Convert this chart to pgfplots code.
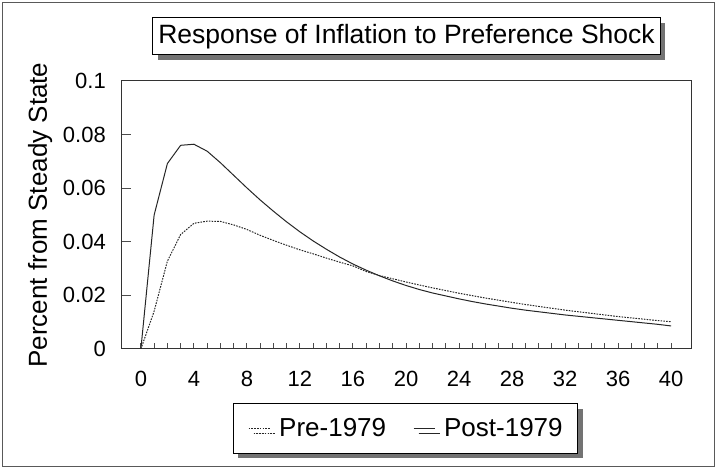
\documentclass[border=0pt]{standalone}
\usepackage{fontspec}
\setmainfont{Liberation Sans}
\usepackage{pgfplots}
\pgfplotsset{compat=1.18}
\usetikzlibrary{shadows}

\pgfplotstableread{
t pre post
0 0 0
1 0.0141 0.0500
2 0.0328 0.0692
3 0.0427 0.0760
4 0.0469 0.0764
5 0.0477 0.0738
6 0.0476 0.0695
7 0.0463 0.0648
8 0.0446 0.0601
9 0.0424 0.0556
10 0.0405 0.0514
11 0.0387 0.0474
12 0.0370 0.0437
13 0.0355 0.0403
14 0.0339 0.0372
15 0.0324 0.0343
16 0.0310 0.0317
17 0.0289 0.0294
18 0.0274 0.0273
19 0.0262 0.0254
20 0.0250 0.0237
21 0.0239 0.0222
22 0.0228 0.0209
23 0.0218 0.0198
24 0.0208 0.0187
25 0.0199 0.0177
26 0.0190 0.0168
27 0.0182 0.0160
28 0.0174 0.0152
29 0.0166 0.0145
30 0.0159 0.0139
31 0.0152 0.0133
32 0.0145 0.0127
33 0.0139 0.0122
34 0.0133 0.0117
35 0.0127 0.0112
36 0.0121 0.0107
37 0.0116 0.0102
38 0.0111 0.0097
39 0.0106 0.0092
40 0.0102 0.0086
}\datatable

\begin{document}
\begin{tikzpicture}[x=1bp,y=1bp]
\path[use as bounding box] (0,0) rectangle (719,468);
\draw[black!65, line width=1bp] (2.7,1.3) rectangle (714,465.3);
\begin{axis}[
  at={(121bp,119bp)}, anchor=south west,
  scale only axis, width=570bp, height=268bp,
  xmin=-1.5, xmax=41.5, ymin=0, ymax=0.1,
  axis line style={black!80, line width=1bp},
  xtick={0,4,...,40}, minor xtick={0,1,...,40},
  ytick={0,0.02,0.04,0.06,0.08,0.1},
  yticklabels={0,0.02,0.04,0.06,0.08,0.1},
  scaled y ticks=false,
  xtick pos=bottom, ytick pos=left,
  tick align=inside,
  major tick length=10bp, minor tick length=6bp,
  tick style={black!70, line width=1bp},
  every major x tick/.append style={draw=none},
  /pgf/number format/assume math mode=true,
  ticklabel style={font=\fontsize{22bp}{26bp}\selectfont, inner sep=0pt},
  xticklabel style={anchor=north, yshift=-22bp},
  yticklabel style={anchor=east, xshift=-15bp},
  ylabel={Percent from Steady State},
  every axis y label/.style={at={(axis description cs:-0.142,0.5)}, rotate=90, anchor=center, font=\fontsize{26bp}{30bp}\selectfont},
  legend columns=2,
  legend style={at={(0.499,-0.2966)}, anchor=center, draw=black, line width=1bp, fill=white,
    drop shadow={shadow xshift=5bp, shadow yshift=-5bp, fill=black!55, opacity=1},
    font=\fontsize{26bp}{30bp}\selectfont, inner xsep=15bp, inner ysep=15bp,
    nodes={inner xsep=0pt, inner ysep=0pt},
    /tikz/every odd column/.append style={column sep=9bp},
    /tikz/every even column/.append style={column sep=27bp}},
  legend image code/.code={\draw[#1] (0bp,0bp) -- (21bp,0bp);},
]
\addplot[black!85, line width=1bp, dash pattern=on 1.6bp off 1.2bp] table[x=t, y=pre] {\datatable};
\addlegendentry{Pre-1979}
\addplot[black!85, line width=1bp] table[x=t, y=post] {\datatable};
\addlegendentry{Post-1979}
\end{axis}
\node[draw=black, line width=1bp, fill=white,
  drop shadow={shadow xshift=5bp, shadow yshift=-5bp, fill=black!55, opacity=1},
  minimum width=507bp, minimum height=37bp, inner sep=0pt,
  font=\fontsize{26.5bp}{30bp}\selectfont] at (406.5,431.6) {Response of Inflation to Preference Shock};
\end{tikzpicture}
\end{document}
